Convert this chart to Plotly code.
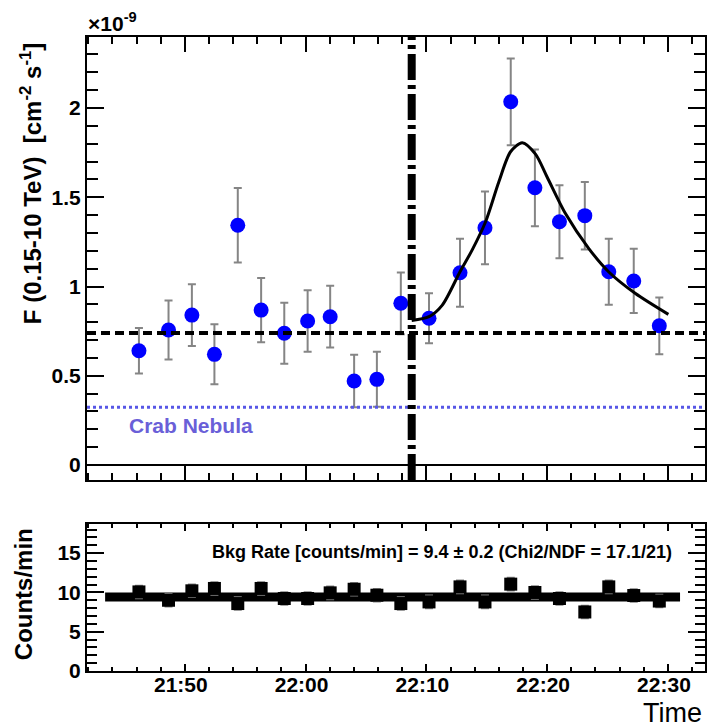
import plotly.graph_objects as go

DAY = "2000-01-01 "

# ---------------- data ----------------
# upper panel: integral flux points, units of 1e-9 cm^-2 s^-1
flux_time = ["21:46:12", "21:48:39", "21:50:35", "21:52:27", "21:54:23", "21:56:19",
             "21:58:14", "22:00:10", "22:02:02", "22:04:01", "22:05:54", "22:07:53",
             "22:10:13", "22:12:47", "22:14:51", "22:16:59", "22:18:59", "22:21:01",
             "22:23:07", "22:25:06", "22:27:10", "22:29:17"]
flux = [0.640, 0.756, 0.840, 0.620, 1.343, 0.868, 0.738, 0.807, 0.831, 0.471, 0.480,
        0.906, 0.822, 1.077, 1.329, 2.035, 1.553, 1.363, 1.397, 1.083, 1.031, 0.780]
flux_err = [0.127, 0.165, 0.173, 0.168, 0.209, 0.180, 0.171, 0.172, 0.173, 0.147, 0.154,
            0.173, 0.140, 0.190, 0.204, 0.243, 0.215, 0.204, 0.189, 0.185, 0.180, 0.159]
bin_halfwidth_min = [1.55, 1.05, 1.0, 1.0, 1.07, 1.05, 1.05, 1.05, 1.05, 1.05, 0.97,
                     1.05, 1.5, 1.15, 1.07, 1.1, 1.05, 1.05, 1.05, 1.07, 1.03, 1.07]

# fitted flare profile
fit_time = ["22:08:47", "22:10:13", "22:11:19", "22:12:47", "22:13:47", "22:14:54",
            "22:16:00", "22:16:58", "22:17:56", "22:19:02", "22:19:59", "22:21:30",
            "22:23:26", "22:25:05", "22:27:17", "22:30:02"]
fit_flux = [0.809, 0.831, 0.896, 1.083, 1.204, 1.363, 1.587, 1.755, 1.806, 1.742,
            1.615, 1.410, 1.214, 1.083, 0.962, 0.844]

baseline_flux = 0.74      # dashed horizontal level
crab_flux = 0.323         # Crab Nebula reference level
flare_start = "22:08:47"  # vertical dash-dotted marker

# lower panel: background rate
bkg_rate = [10.06, 9.0, 10.2, 10.5, 8.58, 10.5, 9.22, 9.22, 9.94, 10.4, 9.64, 8.58,
            8.79, 10.7, 8.79, 11.05, 9.99, 9.22, 7.51, 10.7, 9.6, 8.9]
bkg_err = [0.8] * 22
bkg_fit_value = 9.4
bkg_fit_time = ["21:43:24", "22:31:00"]

x_range = ["21:41:54", "22:33:04"]
y1_range = [-0.084, 2.398]
y2_range = [0, 18.7]

# ---------------- figure ----------------
FONT = "Liberation Sans"
BOLD = dict(family=FONT, size=21, color="black", weight="bold")
ft = [DAY + t for t in flux_time]
xerr_ms = [h * 60000 for h in bin_halfwidth_min]
GRAY = "#858585"

fig = go.Figure()

fig.add_trace(go.Scatter(
    x=ft, y=flux, mode="markers", xaxis="x", yaxis="y",
    marker=dict(symbol="circle", size=15, color="#0000ff"),
    error_y=dict(type="data", array=flux_err, color=GRAY, thickness=2, width=4),
    error_x=dict(type="data", array=xerr_ms, color=GRAY, thickness=2, width=4),
    showlegend=False))

fig.add_trace(go.Scatter(
    x=[DAY + t for t in fit_time], y=fit_flux, mode="lines", xaxis="x", yaxis="y",
    line=dict(color="black", width=3, shape="spline", smoothing=0.8), showlegend=False))

fig.add_trace(go.Scatter(
    x=[DAY + t for t in bkg_fit_time], y=[bkg_fit_value] * 2, mode="lines",
    xaxis="x2", yaxis="y2", line=dict(color="black", width=9), showlegend=False))

fig.add_trace(go.Scatter(
    x=ft, y=bkg_rate, mode="markers", xaxis="x2", yaxis="y2",
    marker=dict(symbol="square", size=13, color="black"),
    error_y=dict(type="data", array=bkg_err, color=GRAY, thickness=2, width=4),
    error_x=dict(type="data", array=xerr_ms, color=GRAY, thickness=2, width=4),
    showlegend=False))

# reference lines
fig.add_shape(type="line", xref="x domain", yref="y", x0=0, x1=1,
              y0=baseline_flux, y1=baseline_flux, layer="above",
              line=dict(color="black", width=4, dash="9px,5px"))
fig.add_shape(type="line", xref="x domain", yref="y", x0=0, x1=1,
              y0=crab_flux, y1=crab_flux, layer="above",
              line=dict(color="#5757e6", width=3, dash="3px,3px"))
fig.add_shape(type="line", xref="x", yref="y domain", x0=DAY + flare_start,
              x1=DAY + flare_start, y0=0, y1=1, layer="above",
              line=dict(color="black", width=8, dash="26px,5px,4px,5px"))

T, B, L, R = 37, 56, 87, 5
H = 727 - T - B
W = 712 - L - R


def px(xp):
    return (xp - L) / W


def py(yp):
    return (727 - B - yp) / H


common_x = dict(type="date", range=[DAY + x_range[0], DAY + x_range[1]],
                tick0=DAY + "21:50", dtick=600000, showgrid=False, zeroline=False,
                showline=True, linecolor="black", linewidth=2, mirror="ticks",
                ticks="inside", tickcolor="black", tickwidth=2)
common_y = dict(showgrid=False, showline=True, linecolor="black", linewidth=2,
                mirror="ticks", ticks="inside", tickcolor="black", tickwidth=2,
                tickfont=BOLD)

fig.update_layout(
    width=712, height=727, plot_bgcolor="white", paper_bgcolor="white",
    margin=dict(l=L, r=R, t=T, b=B),
    font=dict(family=FONT, color="black"),
    xaxis=dict(**common_x, domain=[0, 1], anchor="y", showticklabels=False, ticklen=15,
               minor=dict(dtick=120000, tick0=DAY + "21:50", ticks="inside", ticklen=7,
                          tickcolor="black", tickwidth=2, showgrid=False)),
    yaxis=dict(**common_y, domain=[py(480), 1], anchor="x", range=y1_range,
               tick0=0, dtick=0.5, ticklen=17, zeroline=True, zerolinecolor="black",
               zerolinewidth=2,
               minor=dict(dtick=0.1, ticks="inside", ticklen=11, tickcolor="black",
                          tickwidth=2, showgrid=False)),
    xaxis2=dict(**common_x, domain=[0, 1], anchor="y2", tickformat="%H:%M",
                tickfont=BOLD, ticklen=7, ticklabelstandoff=-6, ticklabelshift=-4,
                minor=dict(dtick=120000, tick0=DAY + "21:50", ticks="inside", ticklen=4,
                           tickcolor="black", tickwidth=2, showgrid=False)),
    yaxis2=dict(**common_y, domain=[0, py(524)], anchor="x2", range=y2_range,
                tick0=0, dtick=5, ticklen=17, zeroline=False,
                minor=dict(dtick=1, ticks="inside", ticklen=10, tickcolor="black",
                           tickwidth=2, showgrid=False)),
)

ann = [
    dict(text="F (0.15-10 TeV)  [cm<sup>-2</sup> s<sup>-1</sup>]", textangle=-90,
         xref="paper", yref="paper", x=px(31), y=py(183), xanchor="center",
         yanchor="middle", showarrow=False,
         font=dict(family=FONT, size=24, weight="bold", color="black")),
    dict(text="×10<sup>-9</sup>", xref="paper", yref="paper", x=px(86), y=py(22),
         xanchor="left", yanchor="middle", showarrow=False,
         font=dict(family=FONT, size=21, weight="bold", color="black")),
    dict(text="Crab Nebula", xref="paper", yref="y", x=px(127), y=0.224,
         xanchor="left", yanchor="middle", showarrow=False,
         font=dict(family=FONT, size=21, weight="bold", color="#6a5fd8")),
    dict(text="Bkg Rate [counts/min] = 9.4 ± 0.2 (Chi2/NDF = 17.1/21)",
         xref="paper", yref="y2", x=px(676), y=15.2, xanchor="right",
         yanchor="middle", showarrow=False,
         font=dict(family=FONT, size=18, weight="bold", color="black")),
    dict(text="Counts/min", textangle=-90, xref="paper", yref="paper", x=px(23),
         y=py(594), xanchor="center", yanchor="middle", showarrow=False,
         font=dict(family=FONT, size=24, weight="bold", color="black")),
    dict(text="Time", xref="paper", yref="paper", x=px(706), y=py(713),
         xanchor="right", yanchor="middle", showarrow=False,
         font=dict(family=FONT, size=27, color="black")),
]
fig.update_layout(annotations=ann)

fig.write_html("out.html")
